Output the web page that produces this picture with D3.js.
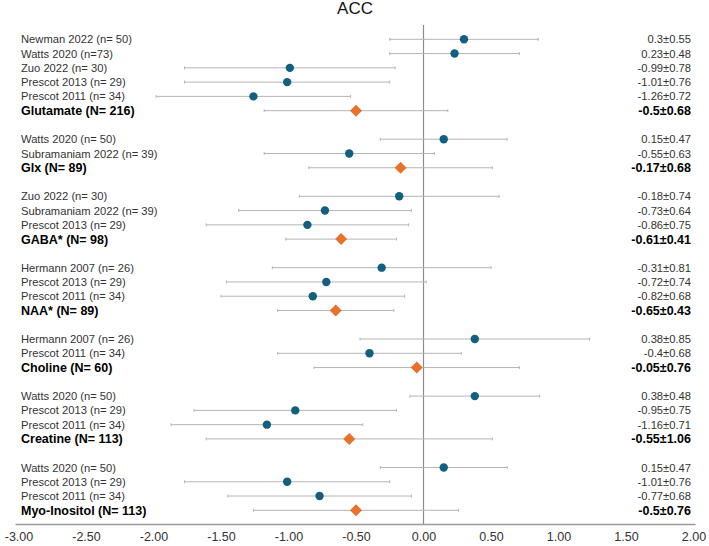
<!DOCTYPE html>
<html lang="en">
  <head>
    <meta charset="utf-8">
    <title>ACC</title>
    <style>
      body { margin: 0; background: white; }
      svg { display: block; font-family: "Liberation Sans", Arial, sans-serif; }
    </style>
    <script src="https://d3js.org/d3.v7.min.js"></script>
  </head>
  <body>
    <div class="chart"></div>
    <script>

    // pooled results per metabolite
    const groups = ["Glutamate (N= 216)", "Glx (N= 89)", "GABA* (N= 98)", "NAA* (N= 89)",
      "Choline (N= 60)", "Creatine (N= 113)", "Myo-Inositol (N= 113)"]
    const groupMeans = [-0.5, -0.17, -0.61, -0.65, -0.05, -0.55, -0.5]
    const groupSDs = [0.68, 0.68, 0.41, 0.43, 0.76, 1.06, 0.76]

    // individual studies (index into groups)
    const studyGroup = [0, 0, 0, 0, 0, 1, 1, 2, 2, 2, 3, 3, 3, 4, 4, 5, 5, 5, 6, 6, 6]
    const studyLabels = [
      "Newman 2022 (n= 50)", "Watts 2020 (n=73)", "Zuo 2022 (n= 30)", "Prescot 2013 (n= 29)", "Prescot 2011 (n= 34)",
      "Watts 2020 (n= 50)", "Subramaniam 2022 (n= 39)",
      "Zuo 2022 (n= 30)", "Subramaniam 2022 (n= 39)", "Prescot 2013 (n= 29)",
      "Hermann 2007 (n= 26)", "Prescot 2013 (n= 29)", "Prescot 2011 (n= 34)",
      "Hermann 2007 (n= 26)", "Prescot 2011 (n= 34)",
      "Watts 2020 (n= 50)", "Prescot 2013 (n= 29)", "Prescot 2011 (n= 34)",
      "Watts 2020 (n= 50)", "Prescot 2013 (n= 29)", "Prescot 2011 (n= 34)"]
    const studyMeans = [0.3, 0.23, -0.99, -1.01, -1.26, 0.15, -0.55, -0.18, -0.73, -0.86,
      -0.31, -0.72, -0.82, 0.38, -0.4, 0.38, -0.95, -1.16, 0.15, -1.01, -0.77]
    const studySDs = [0.55, 0.48, 0.78, 0.76, 0.72, 0.47, 0.63, 0.74, 0.64, 0.75,
      0.81, 0.74, 0.68, 0.85, 0.68, 0.48, 0.75, 0.71, 0.47, 0.76, 0.68]

    const xTicks = [-3, -2.5, -2, -1.5, -1, -0.5, 0, 0.5, 1, 1.5, 2]

    const width = 709, height = 546

    // one row per study, one per pooled result, a blank row between groups
    const rows = []
    groups.forEach((g, gi) => {
      studyLabels.forEach((s, si) => {
        if (studyGroup[si] == gi) rows.push({label: s, mean: studyMeans[si], sd: studySDs[si], pooled: false})
      })
      rows.push({label: g, mean: groupMeans[gi], sd: groupSDs[gi], pooled: true})
      if (gi < groups.length - 1) rows.push(null)
    })
    rows.forEach((r, i) => { if (r) r.idx = i })
    const data = rows.filter(r => r)

    const x = d3.scaleLinear().domain([-3, 2]).range([18.5, 693.5])
    const y = d3.scaleLinear().domain([0, rows.length - 1]).range([39.3, 510.3])

    const svg = d3.select(".chart")
      .append("svg")
      .attr("width", width)
      .attr("height", height)

    svg.append("text")
      .attr("x", 355)
      .attr("y", 14)
      .attr("text-anchor", "middle")
      .style("font-size", "17px")
      .style("fill", "#111")
      .text("ACC")

    // zero line
    svg.append("line")
      .attr("x1", x(0)).attr("x2", x(0))
      .attr("y1", 25).attr("y2", 524.5)
      .attr("stroke", "#8c8c8c")
      .attr("stroke-width", 1.2)

    // x axis
    const axis = svg.append("g")
      .attr("transform", "translate(0,524.5)")
      .call(d3.axisBottom(x).tickValues(xTicks).tickSize(0).tickPadding(8).tickFormat(d => d.toFixed(2)))
    axis.select(".domain").attr("stroke", "#9a9a9a").attr("stroke-width", 1.5)
      .attr("d", `M${x(-3) - 3},0H${x(2) + 2}`)
    axis.selectAll("text").style("font-size", "12.5px").style("fill", "#333")
      .style("font-family", "'Liberation Sans', Arial, sans-serif")

    // error bars
    const bars = svg.append("g")
      .attr("stroke", "#b5b5b5")
      .attr("stroke-width", 1)
    bars.selectAll("line.bar")
      .data(data)
      .join("line")
      .attr("class", "bar")
      .attr("x1", d => x(d.mean - d.sd))
      .attr("x2", d => x(d.mean + d.sd))
      .attr("y1", d => y(d.idx))
      .attr("y2", d => y(d.idx))
    bars.selectAll("path.cap")
      .data(data)
      .join("path")
      .attr("class", "cap")
      .attr("d", d => `M${x(d.mean - d.sd)},${y(d.idx) - 1.5}v3M${x(d.mean + d.sd)},${y(d.idx) - 1.5}v3`)

    svg.append("g")
      .attr("fill", "#135f80")
      .selectAll("circle")
      .data(data.filter(d => !d.pooled))
      .join("circle")
      .attr("cx", d => x(d.mean))
      .attr("cy", d => y(d.idx))
      .attr("r", 4.2)

    svg.append("g")
      .attr("fill", "#e8712c")
      .selectAll("path")
      .data(data.filter(d => d.pooled))
      .join("path")
      .attr("d", d => `M${x(d.mean)},${y(d.idx) - 6}l6,6l-6,6l-6,-6z`)

    // row labels
    svg.append("g")
      .selectAll("text")
      .data(data)
      .join("text")
      .attr("x", 21)
      .attr("y", d => y(d.idx))
      .attr("dy", "0.36em")
      .style("font-size", d => d.pooled ? "12.5px" : "11.2px")
      .style("font-weight", d => d.pooled ? "bold" : "normal")
      .style("fill", d => d.pooled ? "#000" : "#333")
      .text(d => d.label)

    // mean ± sd labels
    svg.append("g")
      .selectAll("text")
      .data(data)
      .join("text")
      .attr("x", 691)
      .attr("y", d => y(d.idx))
      .attr("dy", "0.36em")
      .attr("text-anchor", "end")
      .style("font-size", d => d.pooled ? "12.5px" : "11.2px")
      .style("font-weight", d => d.pooled ? "bold" : "normal")
      .style("fill", d => d.pooled ? "#000" : "#333")
      .text(d => d.mean + "±" + d.sd)
    </script>
  </body>
</html>
